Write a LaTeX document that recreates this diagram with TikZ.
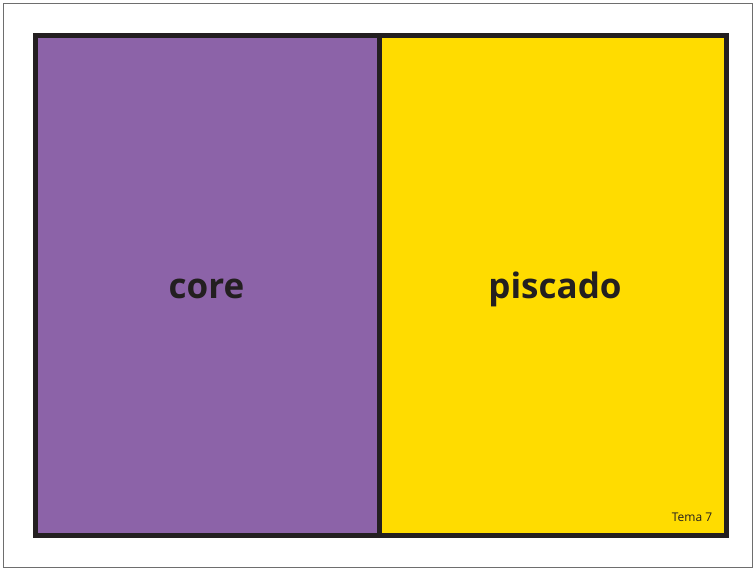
\documentclass[tikz,border=0pt]{standalone}
\usepackage{fontspec}
\setmainfont{Open Sans}
\definecolor{purp}{HTML}{8C63A8}
\definecolor{yell}{HTML}{FFDC00}
\definecolor{ink}{HTML}{231F20}
\definecolor{frame}{HTML}{6E6E6E}
\begin{document}
\begin{tikzpicture}[x=1pt,y=-1pt,
  panel/.style={draw=ink,line width=5pt,minimum height=500pt,inner sep=0pt,outer sep=0pt,anchor=north west},
  big/.style={font=\fontsize{35}{40}\selectfont\bfseries,text=ink}]
\useasboundingbox (0,0) rectangle (756,569);
\draw[frame,line width=1.2pt] (3.5,3.5) rectangle (752.5,567.5);
\node[panel,fill=purp,minimum width=344pt] (left) at (35.5,35.5) {};
\node[panel,fill=yell,minimum width=346.5pt] (right) at (379.5,35.5) {};
\node[big] (core) at (206.5,289) {core};
\node[big] (pis) at (555,289) {piscado};
\node[font=\fontsize{12}{14}\selectfont,text=ink] (tema) at (692,517) {Tema 7};
\end{tikzpicture}
\end{document}
